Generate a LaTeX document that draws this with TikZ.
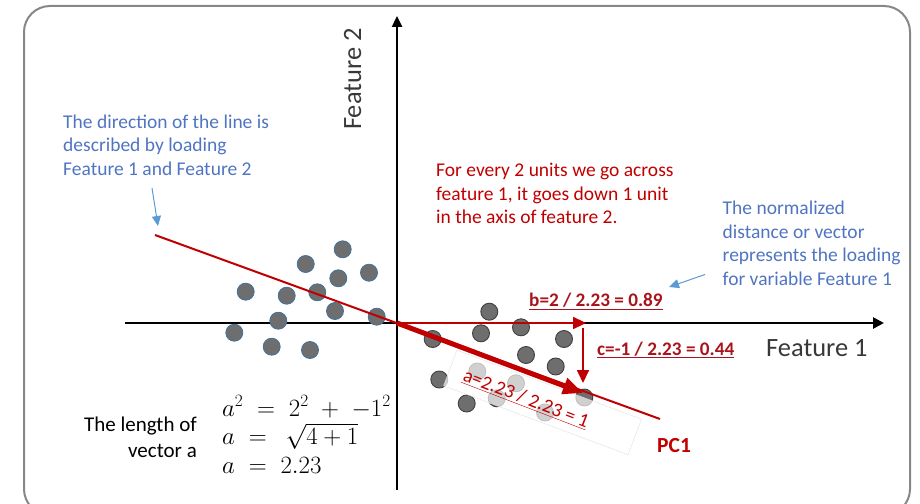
\documentclass[tikz,border=0pt]{standalone}
\usepackage{fontspec}
\setmainfont{Carlito}
\usetikzlibrary{arrows.meta}
\definecolor{loadblue}{HTML}{4F74C2}
\definecolor{arrblue}{HTML}{5B9BD5}
\definecolor{pcred}{HTML}{C00000}
\definecolor{labred}{HTML}{A8141C}
\definecolor{dotgray}{HTML}{6E6E6E}
\definecolor{dotedge}{HTML}{41719C}
\definecolor{framegray}{HTML}{878787}
\newcommand{\fs}[2]{\fontsize{#1}{#2}\selectfont}

\begin{document}
\begin{tikzpicture}[x=1pt,y=-1pt,
  dotleft/.style={fill=dotgray,draw=dotedge,line width=0.8pt},
  dotright/.style={fill=dotgray,draw=black!75,line width=0.9pt},
  bluenote/.style={text=loadblue,align=left,inner sep=0pt,font=\fs{19.5}{23.4}},
  rednote/.style={text=pcred,align=left,inner sep=0pt,font=\fs{19.5}{23.3}},
  loadlab/.style={text=labred,inner sep=0pt,font=\bfseries\fs{19.2}{22}},
  axislab/.style={text=black!78,inner sep=0pt,font=\fs{26.4}{30}}]
  \useasboundingbox (0,0) rectangle (920,503);
  \draw[framegray,line width=2pt,rounded corners=26pt] (24,6) rectangle (910,515);
  % axes
  \coordinate (o) at (397,323);
  \coordinate (xstart) at (125,323); \coordinate (xend) at (884,323);
  \coordinate (ybot) at (397,490); \coordinate (ytop) at (397,16);
  \draw[line width=2.6pt,-{Triangle[length=11pt,width=11pt]}] (xstart) -- (xend);
  \draw[line width=2.4pt,-{Triangle[length=11pt,width=10pt]}] (ybot) -- (ytop);
  % data points
  \foreach \x/\y in {342.7/249.3,305.7/264,338.3/278.3,369/272.7,245.7/291.7,
      286.7/295.7,317.3/292.3,335/311,376.7/316.7,278.3/320.7,234.3/332.7,
      271.7/346.7,310/350}
    \draw[dotleft] (\x,\y) circle (8.5pt);
  \foreach \x/\y in {489.3/311.7,481/333.3,521/327.3,564/339,432.7/339,526/355,
      555.7/366.5,439.3/379.5,466.7/403.5,584.3/397.5,477.3/371.5,516/383.3,
      496.7/398.3,545/412.5}
    \draw[dotright] (\x,\y) circle (8.5pt);
  \node[draw=black!12,fill=white,fill opacity=0.68,rotate=-20.5,
    minimum width=197pt,minimum height=38pt] (abox) at (542.5,402.5) {};
  % PC1 and loading vectors
  \coordinate (pcstart) at (155,235); \coordinate (pcend) at (660,419);
  \draw[pcred,line width=2pt] (pcstart) -- (pcend);
  \coordinate (btip) at (586,323);
  \coordinate (cstart) at (583,328); \coordinate (ctip) at (583,383);
  \coordinate (atip) at (583,393);
  \draw[pcred,line width=2.2pt,-{Triangle[length=13pt,width=12pt]}] (o) -- (btip);
  \draw[pcred,line width=1.8pt,-{Triangle[length=13pt,width=12pt]}] (cstart) -- (ctip);
  \draw[pcred,line width=5pt,-{Triangle[length=20pt,width=16pt]}] (o) -- (atip);
  % labels
  \node[axislab,anchor=base west] (featone) at (766,356) {Feature 1};
  \node[axislab,anchor=base west,rotate=90] (feattwo) at (361,130) {Feature 2};
  \node[bluenote,anchor=base west] (dirnote) at (63,175)
    {The direction of the line is\\described by loading\\Feature 1 and Feature 2};
  \coordinate (dirtail) at (152,188); \coordinate (dirtip) at (158,226);
  \draw[arrblue,line width=1pt,-{Triangle[length=10pt,width=9pt]}] (dirtail) -- (dirtip);
  \node[rednote,anchor=base west] (slopenote) at (436,223.3)
    {For every 2 units we go across\\feature 1, it goes down 1 unit\\in the axis of feature 2.};
  \node[bluenote,anchor=base west] (normnote) at (722.5,285)
    {The normalized\\distance or vector\\represents the loading\\for variable Feature 1};
  \coordinate (normtail) at (705,274.5); \coordinate (normtip) at (669,287);
  \draw[arrblue,line width=1pt,-{Triangle[length=10pt,width=9pt]}] (normtail) -- (normtip);
  \node[loadlab,anchor=base west] (bval) at (529,306.5) {\underline{b=2 / 2.23 = 0.89}};
  \node[loadlab,anchor=base west] (cval) at (597,355) {\underline{c=-1 / 2.23 = 0.44}};
  \node[text=pcred,inner sep=0pt,rotate=-21,font=\fs{19.5}{22}] (aval) at (526,399)
    {\underline{a=2.23 / 2.23 = 1}};
  \node[text=pcred,inner sep=0pt,anchor=base west,font=\bfseries\fs{21.5}{24}] (pcone) at (657,452) {PC1};
  \node[inner sep=0pt,align=right,anchor=base east,font=\fs{21}{25.3}] (lennote) at (197,457)
    {The length of\\vector a};
  \node[inner sep=0pt,align=left,anchor=base west,font=\fs{23}{28.5}] (leneq) at (222,473)
    {$a^2 \;=\; 2^2 \;+\; -1^2$\\$a \;=\; \ \sqrt{4+1}$\\$a \;=\; 2.23$};
\end{tikzpicture}
\end{document}
